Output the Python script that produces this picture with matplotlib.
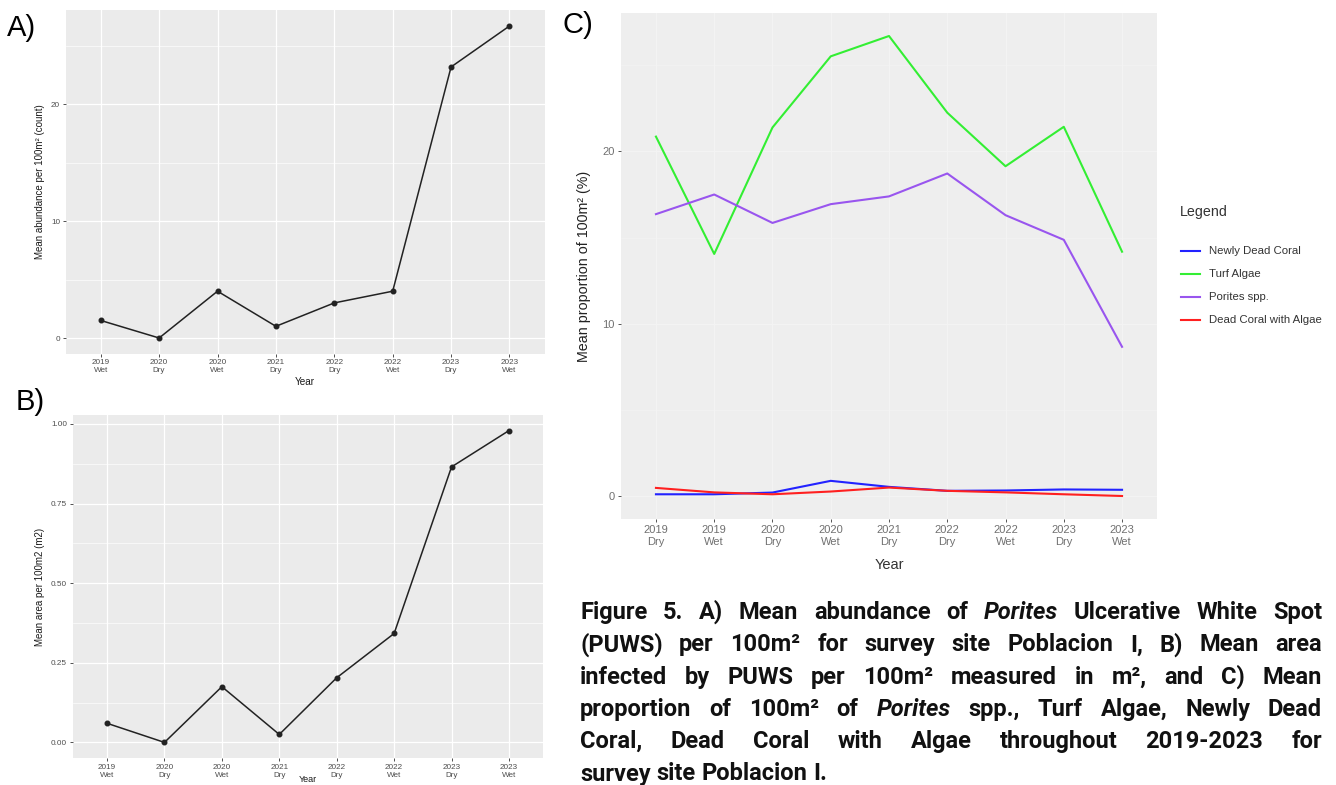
import matplotlib
matplotlib.use('Agg')
import matplotlib.pyplot as plt
import numpy as np

W, H = 1336, 785

# panels A and B: PUWS per survey period
periods_ab = ['2019\nWet', '2020\nDry', '2020\nWet', '2021\nDry',
              '2022\nDry', '2022\nWet', '2023\nDry', '2023\nWet']
abundance = [1.5, 0, 4, 1, 3, 4, 23.17, 26.67]
area = [0.06, 0.0, 0.175, 0.025, 0.203, 0.342, 0.865, 0.979]

# panel C: benthic cover per survey period
periods_c = ['2019\nDry', '2019\nWet', '2020\nDry', '2020\nWet', '2021\nDry',
             '2022\nDry', '2022\nWet', '2023\nDry', '2023\nWet']
newly_dead = [0.1, 0.1, 0.2, 0.88, 0.53, 0.3, 0.32, 0.38, 0.36]
turf_algae = [20.86, 14.05, 21.39, 25.52, 26.7, 22.25, 19.14, 21.43, 14.18]
porites = [16.36, 17.5, 15.85, 16.94, 17.39, 18.72, 16.3, 14.87, 8.66]
dead_coral_algae = [0.47, 0.21, 0.1, 0.26, 0.49, 0.3, 0.21, 0.1, 0.0]

series_c = [('Newly Dead Coral', newly_dead, '#2222FF'),
            ('Turf Algae', turf_algae, '#33EE33'),
            ('Porites spp.', porites, '#9955EE'),
            ('Dead Coral with Algae', dead_coral_algae, '#FF2020')]

plt.rcParams['font.family'] = ['Liberation Sans', 'DejaVu Sans']

fig = plt.figure(figsize=(W / 100, H / 100), dpi=100)


def px_axes(l, t, r, b):
    return fig.add_axes([l / W, 1 - b / H, (r - l) / W, (b - t) / H])


def padded_ylim(ax, vals):
    lo, hi = min(vals), max(vals)
    pad = 0.05 * (hi - lo)
    ax.set_ylim(lo - pad, hi + pad)


def gg_style(ax, bg, grid, lw_major, lw_minor):
    ax.set_facecolor(bg)
    for s in ax.spines.values():
        s.set_visible(False)
    ax.set_axisbelow(True)
    ax.grid(which='major', color=grid, lw=lw_major)
    ax.grid(which='minor', axis='y', color=grid, lw=lw_minor)
    ax.tick_params(which='minor', length=0)


def gg_panel(rect, labels, values, ylabel, yticks, yminor, yfmt, ylab_x,
             xlab_y, xlab_size=7.2):
    ax = px_axes(*rect)
    x = np.arange(len(labels))
    ax.plot(x, values, color='#222222', lw=1.1, marker='o', ms=3.3)
    ax.set_xlim(-0.6, len(labels) - 0.4)
    padded_ylim(ax, values)
    ax.set_xticks(x, labels)
    ax.set_yticks(yticks, [yfmt.format(v) for v in yticks])
    ax.set_yticks(yminor, minor=True)
    gg_style(ax, '#EBEBEB', 'white', 0.9, 0.45)
    ax.tick_params(which='major', length=2.5, width=0.6, color='#333333',
                   labelcolor='#4D4D4D', labelsize=5.9, pad=1.5)
    ax.set_xlabel('Year', fontsize=xlab_size, color='#1A1A1A')
    ax.xaxis.set_label_coords(0.5, xlab_y)
    ax.set_ylabel(ylabel, fontsize=7, color='#1A1A1A')
    ax.yaxis.set_label_coords(ylab_x, 0.5)
    return ax


# A) abundance
gg_panel((65.7, 10.4, 544.5, 353.6), periods_ab, abundance,
         'Mean abundance per 100m² (count)', [0, 10, 20], [5, 15, 25],
         '{:g}', -0.043, -0.068)

# B) area infected
gg_panel((72.6, 415, 543.4, 758), periods_ab, area,
         'Mean area per 100m2 (m2)', [0, 0.25, 0.5, 0.75, 1.0],
         [0.125, 0.375, 0.625, 0.875], '{:.2f}', -0.0586, -0.05, 6.5)

# C) benthic cover
axc = px_axes(621, 13, 1157, 519)
xc = np.arange(len(periods_c))
for name, vals, col in series_c:
    axc.plot(xc, vals, color=col, lw=1.5, label=name)
axc.set_xlim(-0.6, len(periods_c) - 0.4)
padded_ylim(axc, [v for _, vals, _ in series_c for v in vals])
axc.set_xticks(xc, periods_c)
axc.set_yticks([0, 10, 20])
axc.set_yticks([5, 15, 25], minor=True)
gg_style(axc, '#EEEEEE', '#F3F3F3', 0.9, 0.5)
axc.tick_params(which='major', length=2.5, width=0.7, color='#555555',
                labelcolor='#707070', labelsize=8, pad=2)
axc.set_xlabel('Year', fontsize=10.5, color='#333333')
axc.xaxis.set_label_coords(0.5, -0.077)
axc.set_ylabel('Mean proportion of 100m² (%)', fontsize=10.3, color='#222222')
axc.yaxis.set_label_coords(-0.056, 0.5)

# legend for C, laid out by hand
fig.text(1180 / W, 1 - 212 / H, 'Legend', fontsize=10.3, color='#333333',
         va='center')
for i, line in enumerate(axc.get_lines()):
    y = 1 - (251 + 23 * i) / H
    fig.add_artist(plt.Line2D([1181 / W, 1200 / W], [y, y],
                              color=line.get_color(), lw=1.5))
    fig.text(1209 / W, y, line.get_label(), fontsize=8.2, color='#333333',
             va='center')

# panel letters
for letter, x, y in [('A)', 7, 28), ('B)', 16, 402), ('C)', 562, 25)]:
    fig.text(x / W, 1 - y / H, letter, fontsize=21, va='center')

# caption, justified between two edges
caption = [
    ('Figure 5. A) Mean abundance of *Porites Ulcerative White Spot', True),
    ('(PUWS) per 100m² for survey site Poblacion I, B) Mean area', True),
    ('infected by PUWS per 100m² measured in m², and C) Mean', True),
    ('proportion of 100m² of *Porites spp., Turf Algae, Newly Dead', True),
    ('Coral, Dead Coral with Algae throughout 2019-2023 for', True),
    ('survey site Poblacion I.', False),
]
x0, x1 = 580, 1322
renderer = fig.canvas.get_renderer()
cap_kw = dict(family=['Roboto', 'DejaVu Sans'], fontweight='bold',
              fontsize=17, color='#111111', va='baseline')
probe = fig.text(0, 0, 'a a', **cap_kw)
w2 = probe.get_window_extent(renderer).width
probe.set_text('aa')
space = w2 - probe.get_window_extent(renderer).width
probe.remove()
for i, (line, justify) in enumerate(caption):
    y = 1 - (619 + 32.3 * i) / H
    texts = []
    for word in line.split(' '):
        italic = word.startswith('*')
        texts.append(fig.text(0, y, word.lstrip('*'),
                              fontstyle='italic' if italic else 'normal',
                              **cap_kw))
    widths = [t.get_window_extent(renderer).width for t in texts]
    gap = (x1 - x0 - sum(widths)) / (len(texts) - 1) if justify else space
    x = x0
    for t, w in zip(texts, widths):
        t.set_x(x / W)
        x += w + gap

fig.savefig('out.png', dpi=100)
